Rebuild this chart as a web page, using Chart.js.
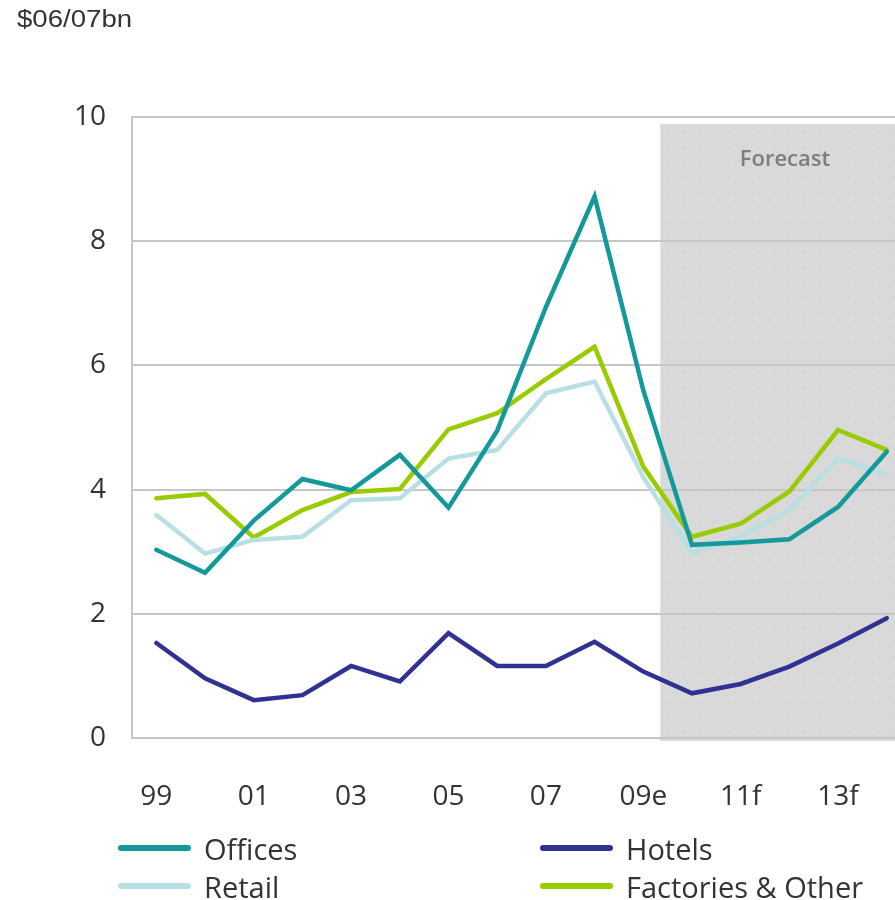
<!DOCTYPE html>
<html>
<head>
<meta charset="utf-8">
<script src="https://cdn.jsdelivr.net/npm/chart.js@4/dist/chart.umd.min.js"></script>
<style>
  html, body { margin: 0; padding: 0; background: #fff; overflow: hidden; }
  #wrap { position: relative; width: 895px; height: 900px; overflow: hidden; }
  #title { position: absolute; left: 17px; top: 6px; font: 23px "Liberation Sans", Arial, sans-serif; color: #333;
           transform: scaleX(1.2); transform-origin: left top; }
  #legend { position: absolute; left: 118px; top: 829px; display: grid; grid-template-columns: 422px 330px;
            grid-template-rows: 38px 38px; grid-auto-flow: column; font: 29px "Open Sans", sans-serif; color: #333; }
  .item { display: flex; align-items: center; white-space: nowrap; }
  .swatch { flex: 0 0 73px; width: 73px; height: 6px; border-radius: 3px; margin-right: 13px; }
</style>
</head>
<body>
<div id="wrap">
  <canvas id="c" width="895" height="900"></canvas>
  <div id="title">$06/07bn</div>
  <div id="legend"></div>
</div>
<script>
const categories = ['99','00','01','02','03','04','05','06','07','08','09e','10f','11f','12f','13f','14f'];
const offices   = [3.03, 2.66, 3.50, 4.17, 3.99, 4.56, 3.71, 4.95, 6.94, 8.72, 5.60, 3.11, 3.15, 3.20, 3.72, 4.61];
const retail    = [3.59, 2.97, 3.19, 3.24, 3.83, 3.86, 4.50, 4.64, 5.55, 5.74, 4.20, 2.98, 3.24, 3.67, 4.50, 4.24];
const hotels    = [1.53, 0.96, 0.61, 0.69, 1.16, 0.91, 1.69, 1.16, 1.16, 1.55, 1.07, 0.72, 0.87, 1.15, 1.52, 1.93];
const factories = [3.86, 3.93, 3.23, 3.67, 3.96, 4.01, 4.97, 5.23, 5.78, 6.30, 4.37, 3.24, 3.45, 3.97, 4.96, 4.64];
const yTicks = [0, 2, 4, 6, 8, 10];
const forecastLabel = 'Forecast';
const forecastFrom = 10.35;

const toPts = arr => arr.map((v, i) => ({ x: i, y: v }));

const forecastPlugin = {
  id: 'forecast',
  beforeDraw(chart) {
    const { ctx, chartArea, scales } = chart;
    const x0 = scales.x.getPixelForValue(forecastFrom);
    const x1 = chartArea.right;
    const y0 = scales.y.getPixelForValue(9.89);
    const y1 = scales.y.getPixelForValue(0) + 3;
    ctx.save();
    ctx.fillStyle = '#d9d9d9';
    ctx.fillRect(x0, y0, x1 - x0, y1 - y0);
    ctx.fillStyle = '#cdcdcd';
    for (let yy = y0 + 8; yy < y1; yy += 15) {
      for (let xx = x0 + 8; xx < x1; xx += 15) {
        ctx.fillRect(xx, yy, 1.5, 1.5);
      }
    }
    ctx.fillStyle = '#7d7d7d';
    ctx.font = '600 22px "Open Sans", sans-serif';
    ctx.textAlign = 'center';
    ctx.textBaseline = 'middle';
    ctx.fillText(forecastLabel, 785, 160);
    ctx.restore();
  }
};

const chart = new Chart(document.getElementById('c'), {
  type: 'line',
  data: {
    datasets: [
      { label: 'Offices', data: toPts(offices), borderColor: '#13999a', backgroundColor: '#13999a' },
      { label: 'Retail', data: toPts(retail), borderColor: '#b8e0e4', backgroundColor: '#b8e0e4' },
      { label: 'Hotels', data: toPts(hotels), borderColor: '#2f3193', backgroundColor: '#2f3193' },
      { label: 'Factories & Other', data: toPts(factories), borderColor: '#99cc00', backgroundColor: '#99cc00' }
    ]
  },
  options: {
    responsive: false,
    animation: false,
    events: [],
    layout: { padding: { top: 117, left: 0, right: 0, bottom: 0 } },
    elements: {
      line: { borderWidth: 4.5, tension: 0, borderCapStyle: 'round', borderJoinStyle: 'miter' },
      point: { radius: 0 }
    },
    plugins: { legend: { display: false }, tooltip: { enabled: false }, title: { display: false } },
    scales: {
      x: {
        type: 'linear',
        min: -0.5,
        max: 15.17,
        afterFit(scale) { scale.height = 162; scale.paddingLeft = 0; scale.paddingRight = 0; },
        afterBuildTicks(scale) {
          scale.ticks = categories.map((c, i) => ({ value: i })).filter(t => t.value % 2 === 0);
        },
        ticks: {
          autoSkip: false,
          maxRotation: 0,
          padding: 42,
          color: '#333',
          font: { family: 'Open Sans', size: 28 },
          callback: v => categories[v]
        },
        grid: { display: false, drawTicks: false },
        border: { display: true, color: '#c6c6c6', width: 2 }
      },
      y: {
        min: 0,
        max: 10,
        afterFit(scale) { scale.width = 132; scale.paddingTop = 0; scale.paddingBottom = 0; },
        afterBuildTicks(scale) { scale.ticks = yTicks.map(v => ({ value: v })); },
        ticks: {
          padding: 26,
          color: '#333',
          font: { family: 'Open Sans', size: 28 }
        },
        grid: { color: '#c6c6c6', lineWidth: 2, drawTicks: false },
        border: { display: true, color: '#c6c6c6', width: 2 }
      }
    }
  },
  plugins: [forecastPlugin]
});

const legendEl = document.getElementById('legend');
chart.data.datasets.forEach(ds => {
  const item = document.createElement('div');
  item.className = 'item';
  const sw = document.createElement('span');
  sw.className = 'swatch';
  sw.style.background = ds.borderColor;
  const tx = document.createElement('span');
  tx.textContent = ds.label;
  item.appendChild(sw);
  item.appendChild(tx);
  legendEl.appendChild(item);
});
</script>
</body>
</html>
